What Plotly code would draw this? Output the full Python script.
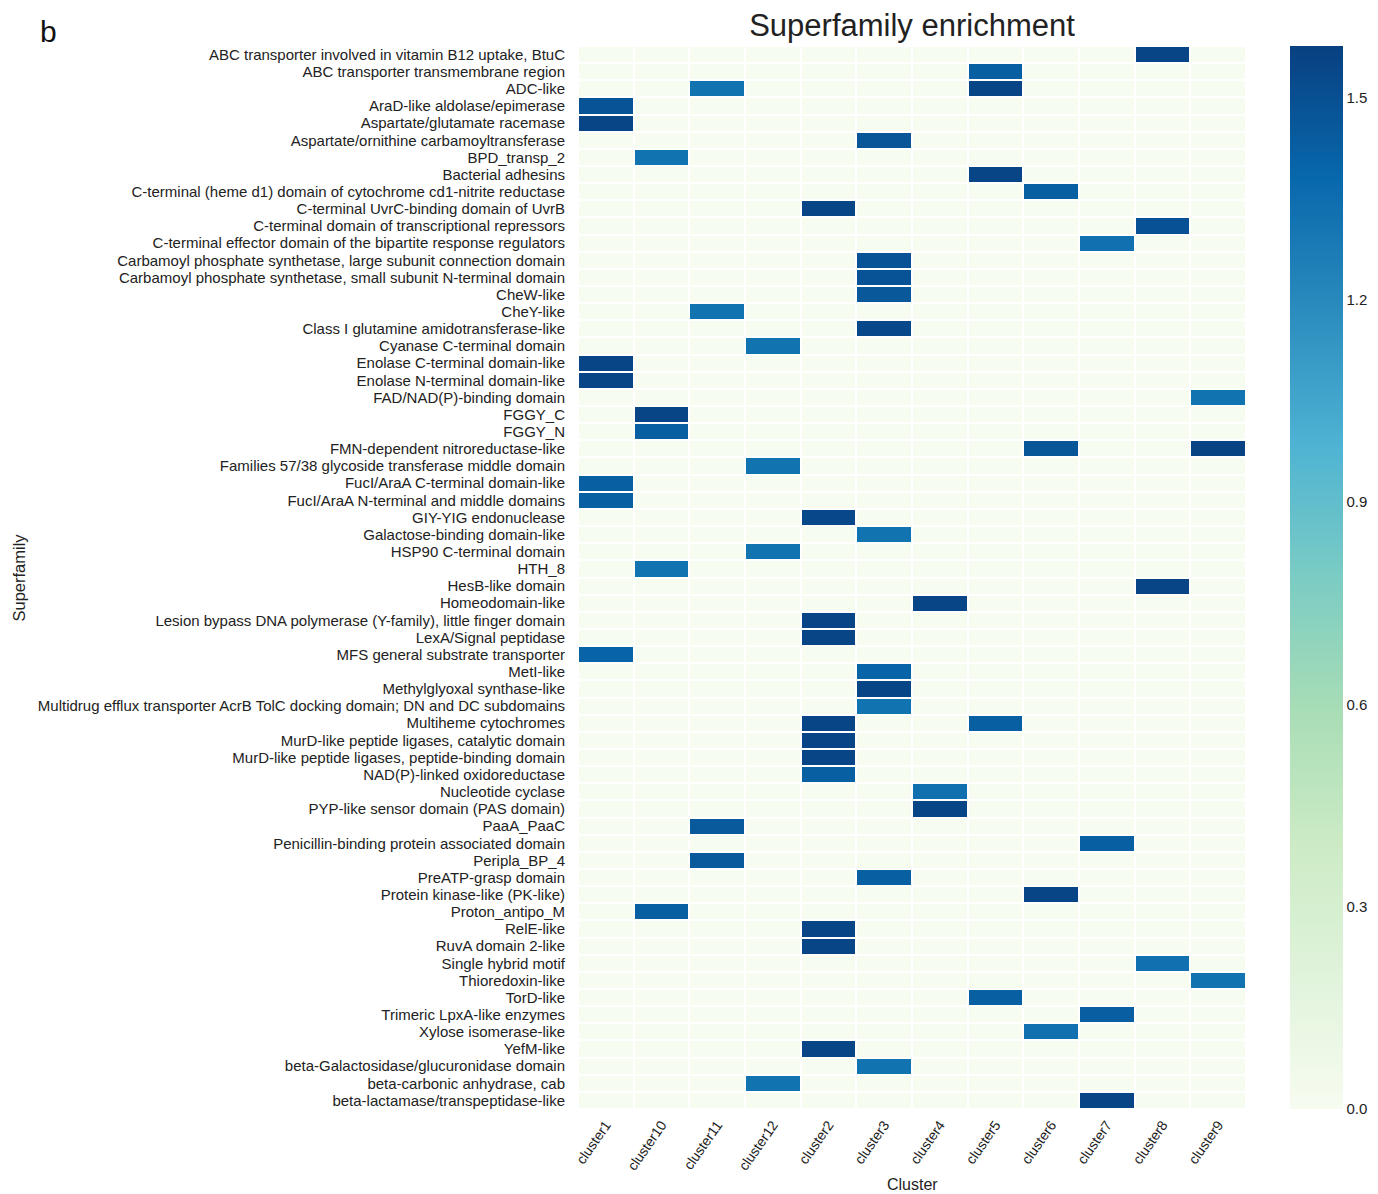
import plotly.graph_objects as go

superfamilies = [
    "ABC transporter involved in vitamin B12 uptake, BtuC",
    "ABC transporter transmembrane region",
    "ADC-like",
    "AraD-like aldolase/epimerase",
    "Aspartate/glutamate racemase",
    "Aspartate/ornithine carbamoyltransferase",
    "BPD_transp_2",
    "Bacterial adhesins",
    "C-terminal (heme d1) domain of cytochrome cd1-nitrite reductase",
    "C-terminal UvrC-binding domain of UvrB",
    "C-terminal domain of transcriptional repressors",
    "C-terminal effector domain of the bipartite response regulators",
    "Carbamoyl phosphate synthetase, large subunit connection domain",
    "Carbamoyl phosphate synthetase, small subunit N-terminal domain",
    "CheW-like",
    "CheY-like",
    "Class I glutamine amidotransferase-like",
    "Cyanase C-terminal domain",
    "Enolase C-terminal domain-like",
    "Enolase N-terminal domain-like",
    "FAD/NAD(P)-binding domain",
    "FGGY_C",
    "FGGY_N",
    "FMN-dependent nitroreductase-like",
    "Families 57/38 glycoside transferase middle domain",
    "FucI/AraA C-terminal domain-like",
    "FucI/AraA N-terminal and middle domains",
    "GIY-YIG endonuclease",
    "Galactose-binding domain-like",
    "HSP90 C-terminal domain",
    "HTH_8",
    "HesB-like domain",
    "Homeodomain-like",
    "Lesion bypass DNA polymerase (Y-family), little finger domain",
    "LexA/Signal peptidase",
    "MFS general substrate transporter",
    "MetI-like",
    "Methylglyoxal synthase-like",
    "Multidrug efflux transporter AcrB TolC docking domain; DN and DC subdomains",
    "Multiheme cytochromes",
    "MurD-like peptide ligases, catalytic domain",
    "MurD-like peptide ligases, peptide-binding domain",
    "NAD(P)-linked oxidoreductase",
    "Nucleotide cyclase",
    "PYP-like sensor domain (PAS domain)",
    "PaaA_PaaC",
    "Penicillin-binding protein associated domain",
    "Peripla_BP_4",
    "PreATP-grasp domain",
    "Protein kinase-like (PK-like)",
    "Proton_antipo_M",
    "RelE-like",
    "RuvA domain 2-like",
    "Single hybrid motif",
    "Thioredoxin-like",
    "TorD-like",
    "Trimeric LpxA-like enzymes",
    "Xylose isomerase-like",
    "YefM-like",
    "beta-Galactosidase/glucuronidase domain",
    "beta-carbonic anhydrase, cab",
    "beta-lactamase/transpeptidase-like",
]

clusters = ["cluster1", "cluster10", "cluster11", "cluster12", "cluster2", "cluster3",
            "cluster4", "cluster5", "cluster6", "cluster7", "cluster8", "cluster9"]

# enriched (superfamily, cluster, value) entries; all other cells are 0
hit_superfamily = [
    "ABC transporter involved in vitamin B12 uptake, BtuC",
    "ABC transporter transmembrane region",
    "ADC-like", "ADC-like",
    "AraD-like aldolase/epimerase",
    "Aspartate/glutamate racemase",
    "Aspartate/ornithine carbamoyltransferase",
    "BPD_transp_2",
    "Bacterial adhesins",
    "C-terminal (heme d1) domain of cytochrome cd1-nitrite reductase",
    "C-terminal UvrC-binding domain of UvrB",
    "C-terminal domain of transcriptional repressors",
    "C-terminal effector domain of the bipartite response regulators",
    "Carbamoyl phosphate synthetase, large subunit connection domain",
    "Carbamoyl phosphate synthetase, small subunit N-terminal domain",
    "CheW-like",
    "CheY-like",
    "Class I glutamine amidotransferase-like",
    "Cyanase C-terminal domain",
    "Enolase C-terminal domain-like",
    "Enolase N-terminal domain-like",
    "FAD/NAD(P)-binding domain",
    "FGGY_C",
    "FGGY_N",
    "FMN-dependent nitroreductase-like", "FMN-dependent nitroreductase-like",
    "Families 57/38 glycoside transferase middle domain",
    "FucI/AraA C-terminal domain-like",
    "FucI/AraA N-terminal and middle domains",
    "GIY-YIG endonuclease",
    "Galactose-binding domain-like",
    "HSP90 C-terminal domain",
    "HTH_8",
    "HesB-like domain",
    "Homeodomain-like",
    "Lesion bypass DNA polymerase (Y-family), little finger domain",
    "LexA/Signal peptidase",
    "MFS general substrate transporter",
    "MetI-like",
    "Methylglyoxal synthase-like",
    "Multidrug efflux transporter AcrB TolC docking domain; DN and DC subdomains",
    "Multiheme cytochromes", "Multiheme cytochromes",
    "MurD-like peptide ligases, catalytic domain",
    "MurD-like peptide ligases, peptide-binding domain",
    "NAD(P)-linked oxidoreductase",
    "Nucleotide cyclase",
    "PYP-like sensor domain (PAS domain)",
    "PaaA_PaaC",
    "Penicillin-binding protein associated domain",
    "Peripla_BP_4",
    "PreATP-grasp domain",
    "Protein kinase-like (PK-like)",
    "Proton_antipo_M",
    "RelE-like",
    "RuvA domain 2-like",
    "Single hybrid motif",
    "Thioredoxin-like",
    "TorD-like",
    "Trimeric LpxA-like enzymes",
    "Xylose isomerase-like",
    "YefM-like",
    "beta-Galactosidase/glucuronidase domain",
    "beta-carbonic anhydrase, cab",
    "beta-lactamase/transpeptidase-like",
]
hit_cluster = [
    "cluster8",
    "cluster5",
    "cluster11", "cluster5",
    "cluster1",
    "cluster1",
    "cluster3",
    "cluster10",
    "cluster5",
    "cluster6",
    "cluster2",
    "cluster8",
    "cluster7",
    "cluster3",
    "cluster3",
    "cluster3",
    "cluster11",
    "cluster3",
    "cluster12",
    "cluster1",
    "cluster1",
    "cluster9",
    "cluster10",
    "cluster10",
    "cluster6", "cluster9",
    "cluster12",
    "cluster1",
    "cluster1",
    "cluster2",
    "cluster3",
    "cluster12",
    "cluster10",
    "cluster8",
    "cluster4",
    "cluster2",
    "cluster2",
    "cluster1",
    "cluster3",
    "cluster3",
    "cluster3",
    "cluster2", "cluster5",
    "cluster2",
    "cluster2",
    "cluster2",
    "cluster4",
    "cluster4",
    "cluster11",
    "cluster7",
    "cluster11",
    "cluster3",
    "cluster6",
    "cluster10",
    "cluster2",
    "cluster2",
    "cluster8",
    "cluster9",
    "cluster5",
    "cluster7",
    "cluster6",
    "cluster2",
    "cluster3",
    "cluster12",
    "cluster7",
]
hit_value = [
    1.55,
    1.42,
    1.32, 1.55,
    1.48,
    1.55,
    1.47,
    1.32,
    1.55,
    1.42,
    1.55,
    1.49,
    1.33,
    1.48,
    1.48,
    1.46,
    1.32,
    1.54,
    1.32,
    1.55,
    1.55,
    1.32,
    1.55,
    1.42,
    1.47, 1.56,
    1.32,
    1.42,
    1.42,
    1.54,
    1.32,
    1.32,
    1.32,
    1.55,
    1.55,
    1.55,
    1.55,
    1.40,
    1.40,
    1.55,
    1.32,
    1.55, 1.42,
    1.55,
    1.55,
    1.42,
    1.33,
    1.55,
    1.45,
    1.42,
    1.45,
    1.42,
    1.55,
    1.42,
    1.55,
    1.55,
    1.33,
    1.32,
    1.42,
    1.43,
    1.33,
    1.55,
    1.32,
    1.32,
    1.55,
]

colorbar_ticks = [0.0, 0.3, 0.6, 0.9, 1.2, 1.5]
z_max = 1.576

# build matrix
z = [[0.0 for _ in clusters] for _ in superfamilies]
for s, c, v in zip(hit_superfamily, hit_cluster, hit_value):
    z[superfamilies.index(s)][clusters.index(c)] = v

gnbu = [
    [0.0, "#f7fcf0"], [0.125, "#e0f3db"], [0.25, "#ccebc5"], [0.375, "#a8ddb5"],
    [0.5, "#7bccc4"], [0.625, "#4eb3d3"], [0.75, "#2b8cbe"], [0.875, "#0868ac"],
    [1.0, "#084081"],
]

FONT = "Liberation Sans, Arial, Helvetica, sans-serif"

# page body has an 8px margin, so figure coords = reference coords - 8
W, H = 1370, 1186
L, R, T, B = 570, 132, 38, 85
PW, PH = W - L - R, H - T - B

fig = go.Figure(go.Heatmap(
    z=z, x=clusters, y=superfamilies,
    colorscale=gnbu, zmin=0, zmax=z_max,
    xgap=2, ygap=2,
    colorbar=dict(
        x=(1282 - L) / PW, xanchor="left", xref="paper",
        y=0.5, yanchor="middle", len=1.0, lenmode="fraction",
        thickness=53, outlinewidth=0, xpad=0, ypad=0,
        tickvals=colorbar_ticks,
        ticktext=[f"{t:.1f}" for t in colorbar_ticks],
        ticks="", ticklabelposition="outside",
        tickfont=dict(size=15, color="#222", family=FONT),
    ),
))

fig.update_layout(
    width=W, height=H,
    margin=dict(l=L, r=R, t=T, b=B, autoexpand=False),
    paper_bgcolor="white", plot_bgcolor="white",
    font=dict(family=FONT, color="#222"),
    title=dict(text="Superfamily enrichment", x=(L + PW / 2) / W, xanchor="center",
               y=1 - 17 / H, yanchor="middle",
               font=dict(size=31, color="#222", family=FONT)),
    xaxis=dict(tickangle=-55, tickfont=dict(size=14, color="#222"),
               tickmode="array", tickvals=clusters, ticktext=clusters,
               showgrid=False, zeroline=False, ticks="", ticklabelstandoff=4),
    yaxis=dict(autorange="reversed", tickfont=dict(size=15, color="#222"),
               tickmode="array", tickvals=superfamilies, ticktext=superfamilies,
               showgrid=False, zeroline=False, ticks="", ticklabelstandoff=12),
    annotations=[
        dict(text="b", xref="paper", yref="paper", x=(30 - L) / PW, y=1 + 14 / PH,
             xanchor="left", yanchor="middle", showarrow=False,
             font=dict(size=30, color="#111", family=FONT)),
        dict(text="Superfamily", xref="paper", yref="paper", x=(10 - L) / PW, y=0.5,
             textangle=-90, xanchor="center", yanchor="middle", showarrow=False,
             font=dict(size=16.5, color="#222", family=FONT)),
        dict(text="Cluster", xref="paper", yref="paper", x=0.5, y=-(1176 - (T + PH)) / PH,
             xanchor="center", yanchor="middle", showarrow=False,
             font=dict(size=16, color="#222", family=FONT)),
    ],
)

fig.write_html("out.html")
